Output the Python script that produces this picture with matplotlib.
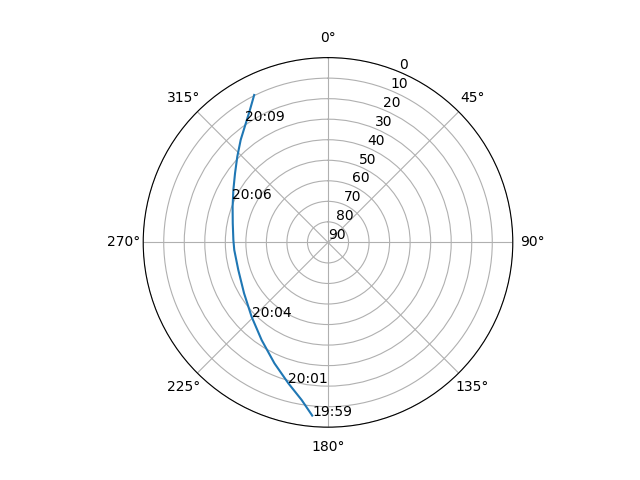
import numpy as np
import matplotlib
matplotlib.use("Agg")
import matplotlib.pyplot as plt

# Satellite pass track (azimuth deg, elevation deg)
track_az = [185.2, 189.5, 195.7, 203.9, 214.2, 225.8, 238.8, 252.9, 265.4,
            271.5, 281.3, 290.5, 299.0, 306.6, 313.4, 319.6, 329.5, 333.4]
track_el = [5.3, 12.2, 18.7, 25.6, 32.5, 38.1, 42.2, 44.3, 44.2,
            43.9, 42.7, 40.4, 37.3, 33.6, 29.2, 24.4, 15.1, 9.7]

# Time labels along the pass
label_times = ["19:59", "20:01", "20:04", "20:06", "20:09"]
label_az = [185.2, 195.7, 225.8, 294.3, 325.8]
label_el = [5.3, 18.7, 38.1, 38.7, 18.5]

r_ticks = [0, 10, 20, 30, 40, 50, 60, 70, 80, 90]

fig = plt.figure(figsize=(6.4, 4.8), dpi=100)
ax = fig.add_subplot(projection='polar')
ax.set_theta_zero_location('N')
ax.set_theta_direction(-1)

ax.plot(np.radians(track_az), track_el)
for t, a, e in zip(label_times, label_az, label_el):
    ax.text(np.radians(a), e, t)

ax.set_yticks(r_ticks)
ax.set_ylim(90, 0)

fig.savefig("out.png")
